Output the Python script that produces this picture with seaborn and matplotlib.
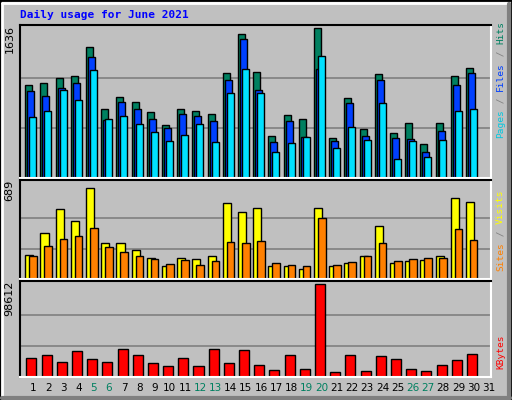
import matplotlib
matplotlib.use("Agg")
import matplotlib.pyplot as plt
import seaborn as sns
import numpy as np
from matplotlib.patches import Rectangle

days = list(range(1, 32))
hits = [1014, 1036, 1090, 1112, 1428, 752, 883, 828, 719, 578, 752, 730, 698, 1145, 1570,
        1155, 458, 687, 643, 1636, 436, 872, 534, 1134, 491, 600, 371, 600, 1112, 1199, 0]
files = [948, 894, 981, 1036, 1319, 632, 828, 752, 643, 545, 698, 676, 621, 1068, 1515,
         959, 392, 621, 447, 1188, 403, 818, 458, 1068, 436, 425, 283, 512, 1014, 1145, 0]
pages = [665, 730, 959, 850, 1177, 643, 676, 589, 501, 403, 469, 589, 392, 927, 1188,
         927, 283, 382, 447, 1330, 327, 556, 414, 818, 207, 403, 229, 414, 730, 752, 0]
visits = [180, 345, 532, 442, 689, 270, 270, 217, 157, 97, 157, 150, 172, 577, 509,
          539, 97, 97, 75, 539, 97, 120, 172, 404, 120, 135, 142, 172, 614, 584, 0]
sites = [172, 247, 300, 322, 389, 240, 202, 172, 150, 112, 142, 105, 135, 277, 270,
         285, 120, 105, 97, 464, 105, 127, 172, 270, 135, 150, 157, 157, 375, 292, 0]
kbytes = [20596, 23848, 16260, 27100, 19512, 16260, 29268, 23848, 15176, 11924, 20596,
          11924, 29268, 15176, 28184, 13008, 7588, 23848, 8672, 98612, 5420, 23848, 6504,
          22764, 19512, 8672, 6504, 13008, 18428, 24932, 0]
weekend = [5, 6, 12, 13, 19, 20, 26, 27]

sns.set_style("white")
plt.rcParams["font.family"] = ["DejaVu Sans Mono", "DejaVu Sans"]

BG = "#C0C0C0"
fig = plt.figure(figsize=(5.12, 4.0), dpi=100, facecolor=BG)

# bevelled frame
fig.patches.append(Rectangle((0, 0), 1, 1, transform=fig.transFigure, fill=False,
                             edgecolor="black", linewidth=2))
fig.add_artist(plt.Line2D([0.004, 0.99], [0.993, 0.993], color="white", lw=2, transform=fig.transFigure))
fig.add_artist(plt.Line2D([0.004, 0.004], [0.01, 0.993], color="white", lw=2, transform=fig.transFigure))
fig.add_artist(plt.Line2D([0.004, 0.996], [0.006, 0.006], color="#808080", lw=3, transform=fig.transFigure))
fig.add_artist(plt.Line2D([0.994, 0.994], [0.006, 0.99], color="#808080", lw=3, transform=fig.transFigure))

d = np.array(days)


def setup(ax, top, label):
    ax.set_facecolor(BG)
    ax.set_xlim(0.5, 31.5)
    ax.set_ylim(0, top)
    ax.set_xticks([])
    ax.set_yticks([])
    for y in (top * 1 / 3 * 0.98, top * 2 / 3 * 0.98):
        pass
    for s in ("left", "top"):
        ax.spines[s].set_color("black")
    for s in ("right", "bottom"):
        ax.spines[s].set_color("white")
    for s in ax.spines.values():
        s.set_linewidth(1.5)
    ax.text(-0.022, 1.0, label, transform=ax.transAxes, rotation=90, ha="center", va="top",
            fontsize=8, family="DejaVu Sans", color="black")


def grid(ax, vmax):
    for y in (vmax / 3, vmax * 2 / 3):
        ax.axhline(y, color="#808080", lw=1.2, zorder=0)


def side_label(ax, parts):
    y = 0.03
    for txt, col in parts:
        t = ax.text(1.02, y, txt, transform=ax.transAxes, rotation=90, ha="left", va="bottom",
                    fontsize=6.8, color=col)
        y += len(txt) * 0.043 * (1.0 / ax.get_position().height) * 0.38


kw = dict(edgecolor="black", linewidth=1, align="edge", zorder=2)

ax1 = fig.add_axes([0.039, 0.555, 0.92, 0.3825])
setup(ax1, 1669, "1636")
grid(ax1, 1636)
ax1.bar(d - 0.15, hits, 0.46, color="#008060", **kw)
ax1.bar(d - 0.02, files, 0.46, color="#0040FF", **kw)
ax1.bar(d + 0.11, pages, 0.46, color="#00E0FF", **kw)

ax2 = fig.add_axes([0.039, 0.3025, 0.92, 0.2475])
setup(ax2, 749, "689")
grid(ax2, 689)
ax2.bar(d - 0.15, visits, 0.53, color="#FFFF00", **kw)
ax2.bar(d + 0.11, sites, 0.5, color="#FF8000", **kw)

ax3 = fig.add_axes([0.039, 0.0575, 0.92, 0.24])
setup(ax3, 101900, "98612")
grid(ax3, 98612)
ax3.bar(d - 0.08, kbytes, 0.66, color="#FF0000", **kw)

for i in days:
    ax3.text(i + 0.36, -0.06, str(i), transform=ax3.get_xaxis_transform(), ha="center",
             va="top", fontsize=7.5, family="DejaVu Sans",
             color="#008060" if i in weekend else "black")

def vlabel(ax, parts, y0):
    pos = ax.get_position()
    y = pos.y0 + y0
    step = 0.0147
    for txt, col in parts:
        fig.text(0.969, y, txt, rotation=90, ha="left", va="bottom", fontsize=6.8, color=col)
        y += len(txt) * step

vlabel(ax1, [("Pages", "#00C8E0"), (" / ", "#808080"), ("Files", "#0040FF"),
             (" / ", "#808080"), ("Hits", "#008060")], 0.1)
vlabel(ax2, [("Sites", "#FF8000"), (" / ", "#808080"), ("Visits", "#FFFF00")], 0.02)
vlabel(ax3, [("KBytes", "#FF0000")], 0.02)

fig.text(0.039, 0.962, "Daily usage for June 2021", color="#0000FF", fontsize=8,
         fontweight="bold", va="center", ha="left")

fig.savefig("out.png", dpi=100, facecolor=BG)
